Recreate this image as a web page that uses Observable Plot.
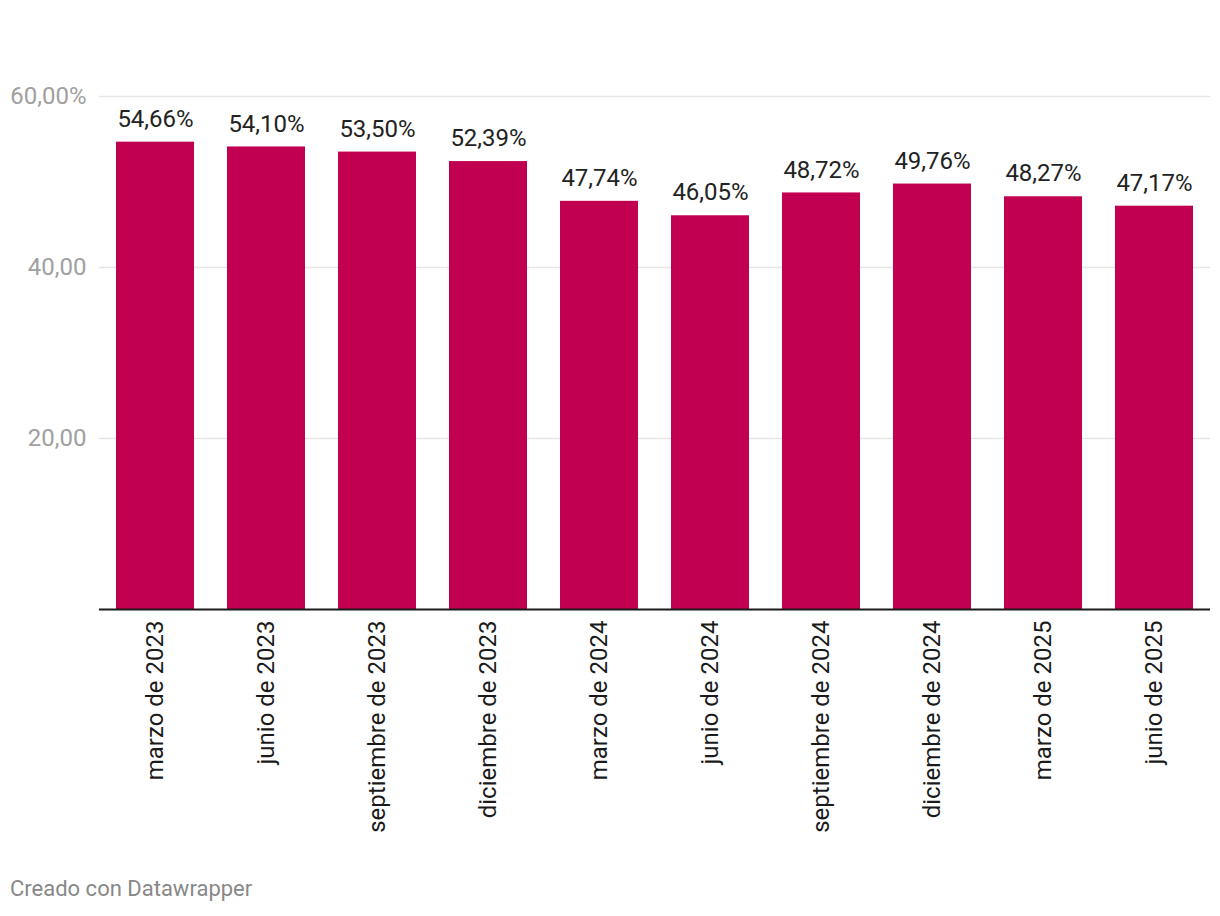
<!DOCTYPE html>
<html>
<head>
<meta charset="utf-8">
<script src="https://cdn.jsdelivr.net/npm/d3@7"></script>
<script src="https://cdn.jsdelivr.net/npm/@observablehq/plot@0.6"></script>
<style>
  body { margin: 0; background: #fff; font-family: Roboto, "Noto Sans", sans-serif; }
  #chart { width: 1220px; }
  .footer { font-family: Roboto, sans-serif; font-size: 22px; color: #888; padding-left: 10px; margin-top: 16px; }
</style>
</head>
<body>
<div id="chart"></div>
<div class="footer">Creado con Datawrapper</div>
<script>
const periods = ["marzo de 2023","junio de 2023","septiembre de 2023","diciembre de 2023","marzo de 2024","junio de 2024","septiembre de 2024","diciembre de 2024","marzo de 2025","junio de 2025"];
const values = [54.66, 54.10, 53.50, 52.39, 47.74, 46.05, 48.72, 49.76, 48.27, 47.17];
const yTicks = [20, 40, 60];
const yTickLabels = ["20,00", "40,00", "60,00%"];

const data = periods.map((p, i) => ({period: p, value: values[i]}));
const fmt = v => v.toFixed(2).replace(".", ",") + "%";

const chart = Plot.plot({
  width: 1220,
  height: 860,
  marginLeft: 99,
  marginRight: 10,
  marginTop: 96,
  marginBottom: 251,
  style: { fontFamily: "Roboto, sans-serif", background: "#fff" },
  x: { domain: periods, paddingInner: 0.3, paddingOuter: 0.15, label: null },
  y: { domain: [0, 60], label: null },
  marks: [
    Plot.gridY(yTicks, { stroke: "#e5e5e5", strokeOpacity: 1, strokeWidth: 1.5 }),
    Plot.barY(data, { x: "period", y: "value", fill: "#c20051" }),
    Plot.ruleY([0], { stroke: "#1a1a1a", strokeWidth: 2 }),
    Plot.text(data, { x: "period", y: "value", text: d => fmt(d.value), lineAnchor: "middle", dy: -23, fontSize: 24, fill: "#222" }),
    Plot.axisY(yTicks, { tickSize: 0, tickPadding: 13, fontSize: 24, color: "#a0a0a0", tickFormat: (d, i) => yTickLabels[yTicks.indexOf(d)], label: null }),
    Plot.axisX({ tickSize: 0, tickPadding: 11, tickRotate: -90, fontSize: 24, color: "#1a1a1a", label: null })
  ]
});
document.getElementById("chart").appendChild(chart);
</script>
</body>
</html>
